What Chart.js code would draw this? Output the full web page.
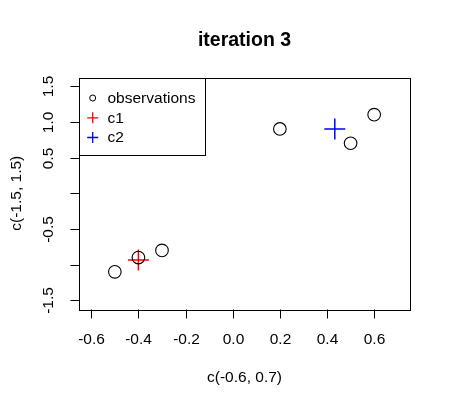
<!DOCTYPE html>
<html><head><meta charset="utf-8">
<script src="https://cdn.jsdelivr.net/npm/chart.js@4"></script>
<style>html,body{margin:0;padding:0;background:#fff;}#wrap{width:451px;height:407px;}</style>
</head><body><div id="wrap"><canvas id="c" width="451" height="407"></canvas></div>
<script>
const obsX = [0.2, 0.6, 0.5, -0.3, -0.4, -0.5];
const obsY = [0.9, 1.1, 0.7, -0.8, -0.9, -1.1];
const c1X = [-0.4];
const c1Y = [-0.933];
const c2X = [0.433];
const c2Y = [0.9];
const xTicks = [-0.6, -0.4, -0.2, 0.0, 0.2, 0.4, 0.6];
const yTicks = [-1.5, -1.0, -0.5, 0.0, 0.5, 1.0, 1.5];
const yTickLabels = ["-1.5", "", "-0.5", "", "0.5", "1.0", "1.5"];
const titleText = "iteration 3";
const xTitle = "c(-0.6, 0.7)";
const yTitle = "c(-1.5, 1.5)";
const legendLabels = ["observations", "c1", "c2"];

const FONT = '"Liberation Sans", Arial, sans-serif';
const pts = (xs, ys) => xs.map((x, i) => ({x: x, y: ys[i]}));

const rPlot = {
  id: 'rplot',
  afterDraw(chart) {
    const ctx = chart.ctx;
    const a = chart.chartArea;
    const xs = chart.scales.x, ys = chart.scales.y;
    ctx.save();
    ctx.strokeStyle = '#000';
    ctx.lineWidth = 1;
    // box
    ctx.strokeRect(Math.round(a.left) + 0.5, Math.round(a.top) + 0.5, Math.round(a.right - a.left), Math.round(a.bottom - a.top));
    // x ticks
    const tl = 9;
    ctx.fillStyle = '#000';
    ctx.font = '15.5px ' + FONT;
    ctx.textAlign = 'center';
    ctx.textBaseline = 'middle';
    const by = Math.round(a.bottom) + 0.5;
    xTicks.forEach(v => {
      const px = Math.round(xs.getPixelForValue(v)) + 0.5;
      ctx.beginPath(); ctx.moveTo(px, by); ctx.lineTo(px, by + tl); ctx.stroke();
      ctx.fillText(v.toFixed(1), px, 339.5);
    });
    // y ticks
    const lx = Math.round(a.left) + 0.5;
    yTicks.forEach((v, i) => {
      const py = Math.round(ys.getPixelForValue(v)) + 0.5;
      ctx.beginPath(); ctx.moveTo(lx, py); ctx.lineTo(lx - tl, py); ctx.stroke();
      if (yTickLabels[i]) {
        ctx.save();
        ctx.translate(48.5, py);
        ctx.rotate(-Math.PI / 2);
        ctx.fillText(yTickLabels[i], 0, 0);
        ctx.restore();
      }
    });
    // axis titles
    ctx.fillText(xTitle, (a.left + a.right) / 2, 378);
    ctx.save();
    ctx.translate(16.5, (a.top + a.bottom) / 2);
    ctx.rotate(-Math.PI / 2);
    ctx.fillText(yTitle, 0, 0);
    ctx.restore();
    // main title
    ctx.font = 'bold 19.5px ' + FONT;
    ctx.fillText(titleText, (a.left + a.right) / 2, 40.5);
    // legend
    const lgL = Math.round(a.left) + 0.5, lgT = Math.round(a.top) + 0.5;
    ctx.strokeRect(lgL, lgT, 126, 77);
    ctx.font = '15.5px ' + FONT;
    ctx.textAlign = 'left';
    const rowsY = [98, 117.8, 137.5];
    const sx = 92.7;
    // circle
    ctx.beginPath(); ctx.arc(sx, rowsY[0], 3, 0, Math.PI * 2); ctx.stroke();
    const cols = ['#ff0000', '#0000ff'];
    [1, 2].forEach((r, k) => {
      ctx.strokeStyle = cols[k];
      ctx.lineWidth = 1.3;
      ctx.beginPath();
      ctx.moveTo(sx - 5.5, rowsY[r]); ctx.lineTo(sx + 5.5, rowsY[r]);
      ctx.moveTo(sx, rowsY[r] - 5.5); ctx.lineTo(sx, rowsY[r] + 5.5);
      ctx.stroke();
    });
    ctx.fillStyle = '#000';
    legendLabels.forEach((t, i) => ctx.fillText(t, 107.5, rowsY[i] + 0.5));
    ctx.restore();
  }
};

new Chart(document.getElementById('c'), {
  type: 'scatter',
  data: {
    datasets: [
      {data: pts(obsX, obsY), pointStyle: 'circle', pointRadius: 6.3, borderColor: '#000', backgroundColor: 'rgba(0,0,0,0)', borderWidth: 1.1},
      {data: pts(c1X, c1Y), pointStyle: 'cross', pointRadius: 10.5, borderColor: '#ff0000', backgroundColor: '#ff0000', borderWidth: 1.5},
      {data: pts(c2X, c2Y), pointStyle: 'cross', pointRadius: 10.5, borderColor: '#0000ff', backgroundColor: '#0000ff', borderWidth: 1.5}
    ]
  },
  options: {
    responsive: false,
    animation: false,
    devicePixelRatio: 1,
    layout: {padding: {left: 79, right: 41, top: 77.5, bottom: 98}},
    plugins: {legend: {display: false}, tooltip: {enabled: false}, title: {display: false}},
    scales: {
      x: {type: 'linear', display: false, min: -0.652, max: 0.752},
      y: {type: 'linear', display: false, min: -1.62, max: 1.62}
    }
  },
  plugins: [rPlot]
});
</script></body></html>
